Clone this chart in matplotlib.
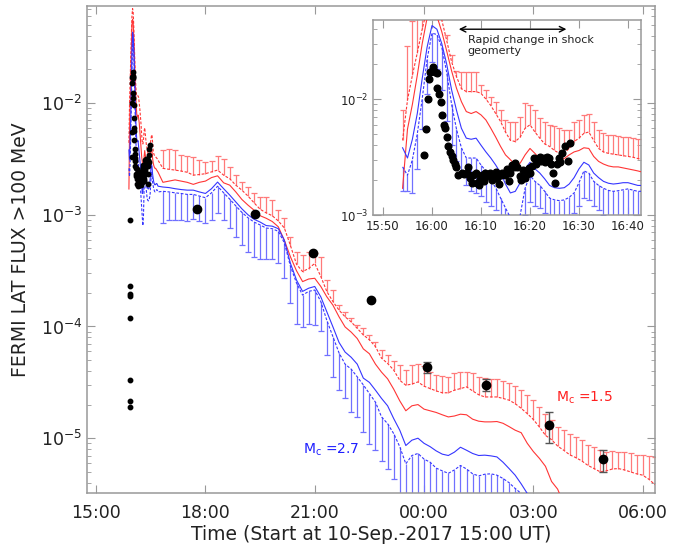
import numpy as np
import matplotlib
matplotlib.use("Agg")
import matplotlib.pyplot as plt

nan = np.nan

# ---- model curves: 1-min sampling 15:54-16:42 (minutes after 15:00) ----
t_fine = np.arange(54, 103)
red_mid_f = [1.7e-3, 5.5e-3, 9e-3, 1.6e-2, 3.0e-2, 5.0e-2,
             5.6e-2, 5.2e-2, 3.8e-2, 2.6e-2, 1.75e-2, 1.24e-2, 9.5e-3, 7.8e-3, 7.5e-3, 7.8e-3,
             7.3e-3, 6.6e-3, 5.6e-3, 4.7e-3, 3.9e-3, 3.3e-3, 3.0e-3, 2.7e-3, 2.8e-3, 3.3e-3,
             3.75e-3, 3.4e-3, 3.07e-3, 2.9e-3, 2.8e-3, 2.8e-3, 2.9e-3, 3.07e-3, 3.3e-3, 3.5e-3,
             3.6e-3, 3.8e-3, 3.75e-3, 3.2e-3, 2.9e-3, 2.75e-3, 2.65e-3, 2.6e-3, 2.6e-3, 2.55e-3,
             2.5e-3, 2.45e-3, 2.4e-3]
red_lo_f = [4.4e-3, 9.8e-3, 1.6e-2, 2.5e-2, 4.0e-2, 6.0e-2,
            7.0e-2, 6.5e-2, 4.8e-2, 3.2e-2, 2.1e-2, 1.56e-2, 1.23e-2, 1.16e-2, 1.16e-2, 1.16e-2,
            1.12e-2, 1.0e-2, 8.8e-3, 7.5e-3, 6.4e-3, 5.2e-3, 4.4e-3, 4.3e-3, 4.7e-3, 5.6e-3,
            6.0e-3, 5.2e-3, 4.6e-3, 4.1e-3, 3.9e-3, 3.6e-3, 3.4e-3, 3.4e-3, 3.75e-3, 4.3e-3,
            4.6e-3, 5.06e-3, 5.2e-3, 4.4e-3, 3.75e-3, 3.5e-3, 3.4e-3, 3.35e-3, 3.3e-3, 3.25e-3,
            3.2e-3, 3.15e-3, 3.07e-3]
red_cap_f = [8.1e-3, 2.85e-2, 4.7e-2, 6.0e-2, 8.0e-2, 1.0e-1,
             1.1e-1, 1.0e-1, 7.5e-2, 3.6e-2, 2.4e-2, 1.75e-2, 1.7e-2, 1.7e-2, 1.7e-2, 1.7e-2,
             1.32e-2, 1.2e-2, 1.05e-2, 9.5e-3, 8.0e-3, 6.6e-3, 6.4e-3, 6.4e-3, 7.0e-3, 9.2e-3,
             8.9e-3, 8.0e-3, 6.8e-3, 6.4e-3, 6.0e-3, 5.8e-3, 5.6e-3, 5.4e-3, 5.4e-3, 6.4e-3,
             6.6e-3, 7.3e-3, 7.5e-3, 6.4e-3, 5.4e-3, 5.06e-3, 4.9e-3, 4.9e-3, 4.8e-3, 4.75e-3,
             4.67e-3, 4.6e-3, 4.5e-3]
blue_mid_f = [3.8e-3, 3.1e-3, 4.5e-3, 7.5e-3, 1.5e-2, 2.8e-2,
              4.3e-2, 4.0e-2, 3.0e-2, 2.0e-2, 1.2e-2, 8.0e-3, 5.6e-3, 4.6e-3, 4.5e-3, 4.6e-3,
              4.0e-3, 3.5e-3, 3.1e-3, 2.7e-3, 2.3e-3, 1.85e-3, 1.55e-3, 1.6e-3, 1.9e-3, 2.5e-3,
              2.85e-3, 2.5e-3, 2.3e-3, 2.05e-3, 1.8e-3, 1.72e-3, 1.7e-3, 1.72e-3, 1.85e-3, 2.1e-3,
              2.5e-3, 2.85e-3, 2.7e-3, 2.3e-3, 2.1e-3, 1.95e-3, 1.88e-3, 1.85e-3, 1.87e-3, 1.9e-3,
              1.9e-3, 1.85e-3, 1.8e-3]
blue_lo_f = [2.6e-3, 2.2e-3, 3.0e-3, 5.0e-3, 1.0e-2, 2.2e-2,
             3.7e-2, 3.6e-2, 2.8e-2, 1.7e-2, 9.0e-3, 5.5e-3, 3.8e-3, 3.1e-3, 3.1e-3, 3.1e-3,
             2.7e-3, 2.4e-3, 2.0e-3, 1.72e-3, 1.4e-3, 1.15e-3, 9.5e-4, 8.0e-4, 1.0e-3, 1.7e-3,
             2.2e-3, 1.95e-3, 1.8e-3, 1.6e-3, 1.4e-3, 1.35e-3, 1.33e-3, 1.35e-3, 1.42e-3, 1.55e-3,
             1.9e-3, 2.4e-3, 2.3e-3, 1.95e-3, 1.8e-3, 1.7e-3, 1.63e-3, 1.6e-3, 1.62e-3, 1.65e-3,
             1.68e-3, 1.64e-3, 1.6e-3]
blue_cap_f = [1.6e-3, 1.6e-3, 1.55e-3, 2.5e-3, 5.5e-3, 1.1e-2,
              2.1e-2, 1.8e-2, 1.2e-2, 6.5e-3, 4.0e-3, 2.9e-3, 2.3e-3, 1.8e-3, 1.6e-3, 1.55e-3,
              1.45e-3, 1.3e-3, 1.2e-3, 1.1e-3, 9.5e-4, 7.5e-4, 6.0e-4, 5.0e-4, 6.0e-4, 1.0e-3,
              1.3e-3, 1.2e-3, 1.15e-3, 1.05e-3, 9.5e-4, 9.0e-4, 8.8e-4, 9.0e-4, 9.5e-4, 1.05e-3,
              1.2e-3, 1.4e-3, 1.35e-3, 1.2e-3, 1.1e-3, 1.0e-3, 9.5e-4, 9.2e-4, 9.0e-4, 9.0e-4,
              9.0e-4, 9.0e-4, 8.8e-4]

# ---- model curves: 10-min sampling 16:50-06:20 (one row per hour) ----
t_coarse = np.arange(110, 921, 10)
red_cap_c = [3.8e-3, 3.85e-3, 3.8e-3, 3.4e-3, 3.33e-3, 3.3e-3,
             3.1e-3, 2.97e-3, 3.0e-3, 3.33e-3, 3.16e-3, 2.7e-3,
             2.27e-3, 1.98e-3, 1.77e-3, 1.55e-3, 1.45e-3, 1.45e-3,
             1.35e-3, 1.1e-3, 9.3e-4, 6.35e-4, 4.6e-4, 4.35e-4,
             4.67e-4, 4.5e-4, 4.2e-4, 2.6e-4, 2.12e-4, 1.55e-4,
             1.35e-4, 1.18e-4, 1.03e-4, 9.6e-5, 8.4e-5, 7.3e-5,
             6.1e-5, 5.5e-5, 4.93e-5, 4.5e-5, 4.07e-5, 4.5e-5,
             4.6e-5, 4.4e-5, 3.95e-5, 3.67e-5, 3.6e-5, 3.54e-5,
             3.8e-5, 3.95e-5, 3.95e-5, 3.8e-5, 3.5e-5, 3.45e-5,
             3.42e-5, 3.4e-5, 3.27e-5, 3.09e-5, 2.92e-5, 2.69e-5,
             2.46e-5, 2.19e-5, 1.91e-5, 1.66e-5, 1.45e-5, 1.26e-5,
             1.18e-5, 1.1e-5, 1.03e-5, 9.6e-6, 8.65e-6, 8.4e-6,
             7.8e-6, 7.5e-6, 7.65e-6, 7.5e-6, 7.5e-6, 7.3e-6,
             7.05e-6, 7.05e-6, 6.9e-6, 6.8e-6]
red_lo_c = [2.6e-3, 2.55e-3, 2.51e-3, 2.46e-3, 2.4e-3, 2.26e-3,
            2.29e-3, 2.33e-3, 2.42e-3, 2.51e-3, 2.26e-3, 2.1e-3,
            1.84e-3, 1.66e-3, 1.47e-3, 1.28e-3, 1.12e-3, 1.04e-3,
            9.8e-4, 8.8e-4, 7.6e-4, 5.3e-4, 3.6e-4, 3.1e-4,
            3.3e-4, 3.67e-4, 2.8e-4, 2.05e-4, 1.67e-4, 1.4e-4,
            1.22e-4, 1.1e-4, 9.6e-5, 8.4e-5, 7.6e-5, 6.6e-5,
            5.2e-5, 4.67e-5, 4.07e-5, 3.3e-5, 2.98e-5, 3.05e-5,
            3.19e-5, 2.92e-5, 2.78e-5, 2.65e-5, 2.55e-5, 2.55e-5,
            2.69e-5, 2.78e-5, 2.88e-5, 2.65e-5, 2.45e-5, 2.34e-5,
            2.34e-5, 2.34e-5, 2.27e-5, 2.19e-5, 2.04e-5, 1.85e-5,
            1.66e-5, 1.47e-5, 1.26e-5, 1.06e-5, 9.7e-6, 8.5e-6,
            7.8e-6, 7.1e-6, 6.7e-6, 6.25e-6, 5.7e-6, 5.35e-6,
            5.0e-6, 5.1e-6, 5.3e-6, 5.35e-6, 5.2e-6, 5.0e-6,
            4.8e-6, 4.67e-6, 4.3e-6, 3.85e-6]
red_mid_c = [1.95e-3, 2.0e-3, 2.05e-3, 2.0e-3, 1.95e-3, 1.87e-3,
             1.95e-3, 2.0e-3, 2.15e-3, 2.23e-3, 1.93e-3, 1.84e-3,
             1.6e-3, 1.37e-3, 1.22e-3, 1.1e-3, 9.8e-4, 9.3e-4,
             8.7e-4, 7.8e-4, 5.9e-4, 4.2e-4, 3.15e-4, 2.52e-4,
             2.66e-4, 2.7e-4, 2.28e-4, 1.84e-4, 1.55e-4, 1.22e-4,
             9.9e-5, 8.9e-5, 7.8e-5, 6.3e-5, 5.7e-5, 4.6e-5,
             3.9e-5, 3.4e-5, 2.75e-5, 2.16e-5, 1.76e-5, 1.95e-5,
             2.0e-5, 1.82e-5, 1.76e-5, 1.7e-5, 1.62e-5, 1.55e-5,
             1.58e-5, 1.64e-5, 1.62e-5, 1.48e-5, 1.42e-5, 1.4e-5,
             1.4e-5, 1.41e-5, 1.36e-5, 1.27e-5, 1.18e-5, 1.12e-5,
             9.0e-6, 7.6e-6, 6.6e-6, 5.6e-6, 4.1e-6, 3.5e-6,
             2.6e-6, 2.1e-6, nan, nan, nan, nan,
             nan, nan, nan, nan, nan, nan,
             nan, nan, nan, nan]
blue_mid_c = [1.77e-3, 1.75e-3, 1.71e-3, 1.68e-3, 1.66e-3, 1.66e-3,
              1.6e-3, 1.55e-3, 1.71e-3, 1.96e-3, 1.71e-3, 1.5e-3,
              1.3e-3, 1.13e-3, 1.0e-3, 9.1e-4, 8.6e-4, 8.0e-4,
              7.9e-4, 7.5e-4, 5.9e-4, 3.67e-4, 2.6e-4, 2.06e-4,
              2.2e-4, 2.28e-4, 1.84e-4, 1.35e-4, 9.9e-5, 7.2e-5,
              5.9e-5, 5.3e-5, 4.6e-5, 3.45e-5, 3.16e-5, 2.69e-5,
              2.27e-5, 1.95e-5, 1.5e-5, 1.18e-5, 8.6e-6, 9.6e-6,
              1.0e-5, 9.0e-6, 8.4e-6, 7.7e-6, 7.2e-6, 7.0e-6,
              7.5e-6, 8.3e-6, 7.8e-6, 7.3e-6, 7.0e-6, 7.05e-6,
              6.95e-6, 6.8e-6, 6.1e-6, 5.35e-6, 4.67e-6, 3.9e-6,
              3.2e-6, 2.6e-6, nan, nan, nan, nan,
              nan, nan, nan, nan, nan, nan,
              nan, nan, nan, nan, nan, nan,
              nan, nan, nan, nan]
blue_lo_c = [1.62e-3, 1.6e-3, 1.57e-3, 1.55e-3, 1.52e-3, 1.52e-3,
             1.47e-3, 1.42e-3, 1.57e-3, 1.8e-3, 1.57e-3, 1.38e-3,
             1.2e-3, 1.05e-3, 9.4e-4, 8.6e-4, 8.1e-4, 7.6e-4,
             7.5e-4, 7.1e-4, 5.6e-4, 3.45e-4, 2.45e-4, 1.91e-4,
             2.06e-4, 2.12e-4, 1.67e-4, 1.13e-4, 8.1e-5, 5.8e-5,
             4.6e-5, 4.15e-5, 3.54e-5, 3.0e-5, 2.51e-5, 2.1e-5,
             1.55e-5, 1.35e-5, 1.1e-5, 8.4e-6, 5.9e-6, 7.0e-6,
             7.3e-6, 6.5e-6, 6.1e-6, 5.4e-6, 5.1e-6, 4.85e-6,
             5.2e-6, 5.7e-6, 5.3e-6, 4.8e-6, 4.6e-6, 4.76e-6,
             4.8e-6, 4.67e-6, 4.36e-6, 4.0e-6, 3.55e-6, 3.2e-6,
             2.7e-6, nan, nan, nan, nan, nan,
             nan, nan, nan, nan, nan, nan,
             nan, nan, nan, nan, nan, nan,
             nan, nan, nan, nan]
blue_cap_c = [8.4e-4, 9.0e-4, 9.0e-4, 9.0e-4, 8.7e-4, 9.1e-4,
              8.7e-4, 8.4e-4, 9.0e-4, 1.03e-3, 9.0e-4, 7.6e-4,
              6.35e-4, 5.35e-4, 4.6e-4, 4.2e-4, 4.05e-4, 4.05e-4,
              4.05e-4, 3.67e-4, 2.7e-4, 1.61e-4, 1.06e-4, 9.9e-5,
              1.05e-4, 1.04e-4, 9.2e-5, 5.5e-5, 3.54e-5, 2.69e-5,
              2.27e-5, 1.72e-5, 1.55e-5, 1.14e-5, 8.9e-6, 7.8e-6,
              6.3e-6, 5.3e-6, 4.35e-6, 2e-6, 2e-6, 2e-6,
              2e-6, 2e-6, 2e-6, 2e-6, 2e-6, 2e-6,
              2e-6, 2e-6, 2e-6, 2e-6, 2e-6, 2e-6,
              2e-6, 2e-6, 2e-6, 2e-6, 2e-6, 2e-6,
              2e-6, nan, nan, nan, nan, nan,
              nan, nan, nan, nan, nan, nan,
              nan, nan, nan, nan, nan, nan,
              nan, nan, nan, nan]

# ---- Fermi-LAT data ----
# 1-min points around the peak (minutes after 15:00)
lat_t = [58.4, 58.7, 59.2, 59.4, 59.6, 60.0, 60.3, 60.6, 61.0, 61.1, 61.5, 61.8, 62.1, 62.5,
         62.7, 63.0, 63.3, 63.6, 64.0, 64.3, 64.6, 65.0, 65.4, 66.1, 66.5, 67.1, 67.4, 67.75,
         68.1, 68.4, 68.9, 69.25, 69.6, 69.9, 70.3, 70.6, 70.9, 71.4, 71.8, 72.2, 72.6, 73.0,
         73.3, 73.6, 74.0, 74.3, 74.7, 75.0, 75.3, 75.7, 76.0, 76.4, 76.7, 77.0, 77.4, 77.9,
         78.2, 78.6, 78.9, 79.4, 79.75, 80.1, 80.4, 80.9, 81.3, 81.6, 82.0, 82.3, 82.8, 83.1,
         83.5, 83.8, 84.3, 84.7, 85.2, 85.5, 85.9, 86.2, 86.5, 87.2, 87.7, 88.2]
lat_f = [3.3e-3, 5.5e-3, 1.0e-2, 1.5e-2, 1.71e-2, 1.75e-2, 1.9e-2, 1.72e-2, 1.69e-2, 1.24e-2,
         1.1e-2, 9.5e-3, 7.3e-3, 6.0e-3, 5.6e-3, 4.7e-3, 3.9e-3, 3.5e-3, 3.2e-3, 3.0e-3, 2.75e-3,
         2.6e-3, 2.2e-3, 2.3e-3, 2.25e-3, 2.3e-3, 2.58e-3, 2.07e-3, 1.87e-3, 2.22e-3, 2.3e-3,
         1.9e-3, 1.82e-3, 2.04e-3, 2.2e-3, 1.98e-3, 2.3e-3, 2.15e-3, 2.3e-3, 2.0e-3, 2.2e-3,
         2.36e-3, 2.07e-3, 1.85e-3, 2.2e-3, 2.3e-3, 2.25e-3, 2.2e-3, 2.48e-3, 1.98e-3, 2.3e-3,
         2.7e-3, 2.6e-3, 2.8e-3, 2.58e-3, 2.15e-3, 2.0e-3, 2.45e-3, 2.07e-3, 2.25e-3, 2.53e-3,
         2.3e-3, 2.64e-3, 3.12e-3, 2.75e-3, 2.98e-3, 3.18e-3, 2.94e-3, 3.08e-3, 2.88e-3, 3.18e-3,
         3.08e-3, 2.78e-3, 2.32e-3, 1.87e-3, 2.75e-3, 3.08e-3, 2.88e-3, 3.4e-3, 3.9e-3, 2.94e-3,
         4.2e-3]
# low early points (minutes after 15:00)
early_t = [56, 56, 56, 56, 56, 56, 56, 55]
early_f = [9.0e-4, 2.3e-4, 1.97e-4, 1.87e-4, 1.2e-4, 3.3e-5, 2.15e-5, 1.9e-5]
# long-duration points (hours after 15:00)
late_h = [2.76, 4.35, 5.94, 7.54, 9.08, 10.71, 12.42, 13.91]
late_f = [1.12e-3, 1.02e-3, 4.5e-4, 1.73e-4, 4.3e-5, 3.0e-5, 1.3e-5, 6.5e-6]
late_up = [1.12e-3, 1.02e-3, 4.5e-4, 1.73e-4, 4.8e-5, 3.4e-5, 1.7e-5, 7.9e-6]
late_dn = [1.12e-3, 1.02e-3, 4.5e-4, 1.73e-4, 3.8e-5, 2.65e-5, 9.0e-6, 5.0e-6]

main_xticks = [0, 3, 6, 9, 12, 15]
main_xlabels = ["15:00", "18:00", "21:00", "00:00", "03:00", "06:00"]
ins_xticks = [50, 60, 70, 80, 90, 100]
ins_xlabels = ["15:50", "16:00", "16:10", "16:20", "16:30", "16:40"]

# assemble
t_mod = np.concatenate([t_fine, t_coarse])
red_mid = np.array(red_mid_f + red_mid_c)
red_lo = np.array(red_lo_f + red_lo_c)
red_cap = np.array(red_cap_f + red_cap_c)
blue_mid = np.array(blue_mid_f + blue_mid_c)
blue_lo = np.array(blue_lo_f + blue_lo_c)
blue_cap = np.array(blue_cap_f + blue_cap_c)

RED = "#ff3535"
RED_BAR = "#ff7a7a"
BLUE = "#3535ff"
BLUE_BAR = "#7070ff"
GRAY = "#999999"
TXT = "#222222"


def draw_models(ax, x, ms, bars_from=0):
    ax.plot(x, red_mid, color=RED, lw=0.8, zorder=3)
    ax.plot(x, red_lo, color=RED, lw=0.8, ls=(0, (2.5, 1.5)), zorder=3)
    ax.plot(x, blue_mid, color=BLUE, lw=0.8, zorder=3)
    ax.plot(x, blue_lo, color=BLUE, lw=0.8, ls=(0, (2.5, 1.5)), zorder=3)
    b = slice(bars_from, None)
    ax.vlines(x[b], red_lo[b], red_cap[b], color=RED_BAR, lw=0.9, zorder=2)
    ax.plot(x[b], red_cap[b], ls="none", marker="_", ms=ms, mew=0.9, color=RED_BAR, zorder=2)
    ax.vlines(x[b], blue_cap[b], blue_lo[b], color=BLUE_BAR, lw=0.9, zorder=2)
    ax.plot(x[b], blue_cap[b], ls="none", marker="_", ms=ms, mew=0.9, color=BLUE_BAR, zorder=2)


def style(ax, size):
    for s in ax.spines.values():
        s.set_color(GRAY)
        s.set_linewidth(1.1)
    ax.tick_params(which="both", direction="in", top=True, right=True,
                   color=GRAY, labelcolor=TXT, labelsize=size)
    ax.tick_params(which="major", length=6)
    ax.tick_params(which="minor", length=3)


fig = plt.figure(figsize=(6.99, 5.46), dpi=100)
ax = fig.add_axes([0.1245, 0.097, 0.8126, 0.892])

# main panel: 1-min part drawn as lines only, bars every 10 min
draw_models(ax, t_mod / 60.0, 4, bars_from=len(t_fine))
ax.plot(np.array(lat_t) / 60.0, lat_f, "o", color="black", ms=3.2, zorder=4)
ax.plot(np.array(early_t) / 60.0, early_f, "o", color="black", ms=3.2, zorder=4)
lf = np.array(late_f)
ax.errorbar(late_h, lf, yerr=[lf - np.array(late_dn), np.array(late_up) - lf],
            fmt="o", color="black", ms=6, ecolor="#555555", elinewidth=1, capsize=3, zorder=5)

ax.set_yscale("log")
ax.set_xlim(-0.25, 15.34)
ax.set_ylim(3.23e-6, 7.38e-2)
ax.set_xticks(main_xticks)
ax.set_xticklabels(main_xlabels)
style(ax, 12.5)
ax.tick_params(axis="x", pad=8)
ax.set_ylabel("FERMI LAT FLUX >100 MeV", fontsize=13.5, color=TXT, labelpad=8)
ax.set_xlabel("Time (Start at 10-Sep.-2017 15:00 UT)", fontsize=13.5, color=TXT, labelpad=2)

ax.text(12.63, 2.29e-5, "M$_{\\rm c}$ =1.5", color="#ff1f1f", fontsize=10, va="center", ha="left")
ax.text(5.68, 7.8e-6, "M$_{\\rm c}$ =2.7", color="#1f1fff", fontsize=10, va="center", ha="left")

# inset zoom on the impulsive phase
axi = fig.add_axes([0.5336, 0.6062, 0.3834, 0.3571])
axi.set_facecolor("white")
draw_models(axi, t_mod, 4)
axi.plot(lat_t, lat_f, "o", color="black", ms=4.8, zorder=4)
axi.set_yscale("log")
axi.set_xlim(47.96, 102.65)
axi.set_ylim(1e-3, 4.8e-2)
axi.set_xticks(ins_xticks)
axi.set_xticklabels(ins_xlabels)
style(axi, 8.5)
axi.annotate("", xy=(64.9, 4.0e-2), xytext=(88.0, 4.0e-2),
             arrowprops=dict(arrowstyle="<->", color="black", lw=1.0))
axi.text(67.3, 3.55e-2, "Rapid change in shock\ngeomerty", fontsize=8, color=TXT,
         va="top", ha="left", linespacing=1.1)

fig.savefig("out.png", dpi=100)
